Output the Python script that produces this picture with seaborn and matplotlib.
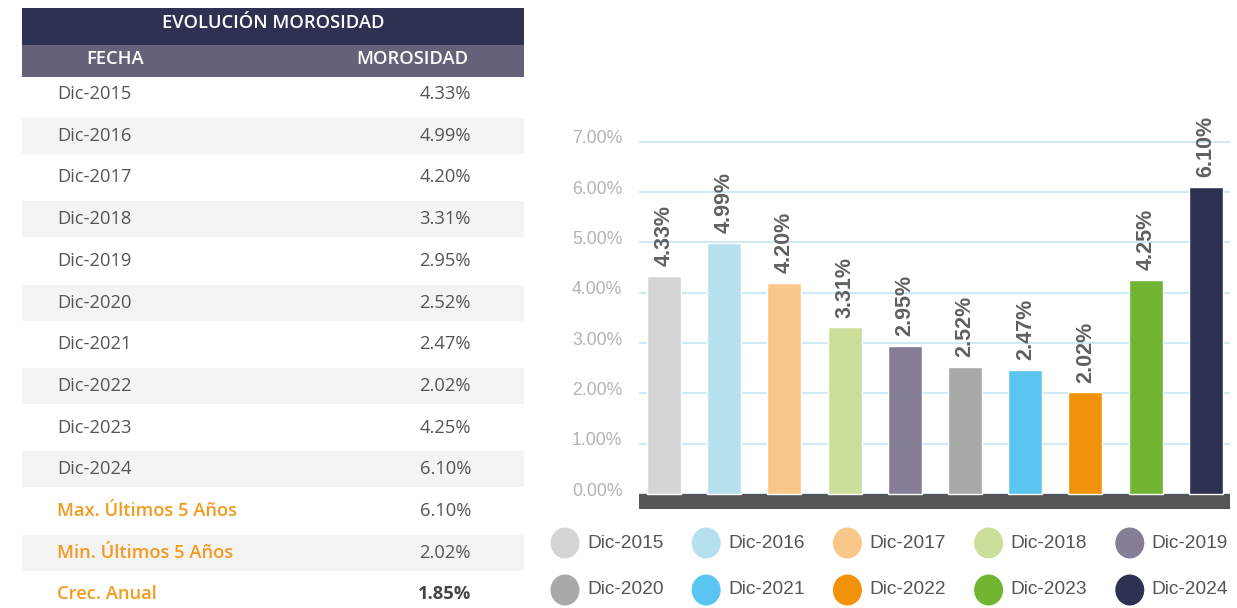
import matplotlib
matplotlib.use("Agg")
import matplotlib.pyplot as plt
from matplotlib import transforms
from matplotlib.patches import Rectangle, Ellipse
import pandas as pd
import seaborn as sns

# Datos
fechas = ['Dic-2015', 'Dic-2016', 'Dic-2017', 'Dic-2018', 'Dic-2019',
          'Dic-2020', 'Dic-2021', 'Dic-2022', 'Dic-2023', 'Dic-2024']
morosidad = [4.33, 4.99, 4.20, 3.31, 2.95, 2.52, 2.47, 2.02, 4.25, 6.10]
resumen_labels = ['Max. Últimos 5 Años', 'Min. Últimos 5 Años', 'Crec. Anual']
resumen_vals = [6.10, 2.02, 1.85]
y_ticks = [0, 1, 2, 3, 4, 5, 6, 7]
colores = ['#d4d5d7', '#b5e0ee', '#fac78b', '#cbdf9a', '#857e96',
           '#a8a9a9', '#5bc5f1', '#f2920b', '#71b532', '#2e3152']

sns.set_theme(style="white")
plt.rcParams['font.family'] = ['Liberation Sans', 'DejaVu Sans']
TABLE_FONT = ['Open Sans', 'DejaVu Sans']
ORANGE = '#f39a1e'
GRAY_TXT = '#555555'

W, H = 1237, 608
fig = plt.figure(figsize=(W / 100, H / 100), dpi=100)

# capa en pixeles para tabla y leyenda
bg = fig.add_axes([0, 0, 1, 1])
bg.set_xlim(0, W)
bg.set_ylim(H, 0)
bg.axis('off')

# --- Tabla ---
bg.add_patch(Rectangle((22, 8), 502, 37, color='#2e3152', lw=0))
bg.text(273, 23, 'EVOLUCIÓN MOROSIDAD', ha='center', va='center', color='white',
        fontsize=13.2, fontweight='semibold', family=TABLE_FONT)
bg.add_patch(Rectangle((22, 45), 502, 32, color='#676079', lw=0))
bg.text(115, 59, 'FECHA', ha='center', va='center', color='white',
        fontsize=13.2, fontweight='semibold', family=TABLE_FONT)
bg.text(412, 59, 'MOROSIDAD', ha='center', va='center', color='white',
        fontsize=13.2, fontweight='semibold', family=TABLE_FONT)

row_labels = fechas + resumen_labels
row_vals = morosidad + resumen_vals
for i, (lab, val) in enumerate(zip(row_labels, row_vals)):
    cy = 94 + i * 41.7
    if i % 2 == 1:
        bg.add_patch(Rectangle((22, cy - 18), 502, 36, color='#f4f4f4', lw=0))
    resumen = i >= len(fechas)
    bg.text(57, cy, lab, ha='left', va='center', fontsize=13.2,
            color=ORANGE if resumen else GRAY_TXT,
            fontweight='semibold' if resumen else 'normal', family=TABLE_FONT)
    ultimo = i == len(row_labels) - 1
    bg.text(471, cy, f'{val:.2f}%', ha='right', va='center', fontsize=13.2,
            color='#444444' if ultimo else GRAY_TXT,
            fontweight='bold' if ultimo else 'normal', family=TABLE_FONT)

# --- Grafico de barras ---
ax = fig.add_axes([639 / W, 1 - 509 / H, 591 / W, 409 / H])
df = pd.DataFrame({'fecha': fechas, 'morosidad': morosidad})
sns.barplot(data=df, x='fecha', y='morosidad', hue='fecha',
            palette=dict(zip(fechas, colores)), width=0.565, saturation=1,
            legend=False, ax=ax, zorder=3)
ax.axhspan(-0.298, 0, color='#555555', lw=0, zorder=2)
ax.set_ylim(-0.298, 7.83)
ax.set_xlim(-0.415, 9.4)
ax.set_yticks(y_ticks)
ax.set_yticklabels([f'{t:.2f}%' for t in y_ticks], fontsize=12.7, color='#b3b3b3')
ax.yaxis.grid(True, color='#cfe9f7', lw=1.5, zorder=1)
ax.xaxis.grid(False)
ax.set_axisbelow(True)
ax.tick_params(axis='y', length=0, pad=12)
ax.set_xticks([])
ax.set_xlabel('')
ax.set_ylabel('')
for s in ax.spines.values():
    s.set_visible(False)
shift = transforms.ScaledTranslation(0, 5 / 100, fig.dpi_scale_trans)
for lbl in ax.get_yticklabels():
    lbl.set_transform(lbl.get_transform() + shift)

for i, v in enumerate(morosidad):
    ax.annotate(f'{v:.2f}%', (i, v), xytext=(0, 7), textcoords='offset points',
                rotation=90, ha='center', va='bottom', fontsize=15.5,
                color='#606060', fontweight='bold', zorder=4)

# --- Leyenda ---
for k, (lab, col) in enumerate(zip(fechas, colores)):
    r, c = divmod(k, 5)
    cx = 565 + c * 141.2
    cy = 543 + r * 47
    bg.add_patch(Ellipse((cx, cy), 29, 31, color=col, lw=0))
    bg.text(cx + 22, cy, lab, ha='left', va='center', fontsize=13.8, color=GRAY_TXT)

fig.savefig('out.png', dpi=100)
